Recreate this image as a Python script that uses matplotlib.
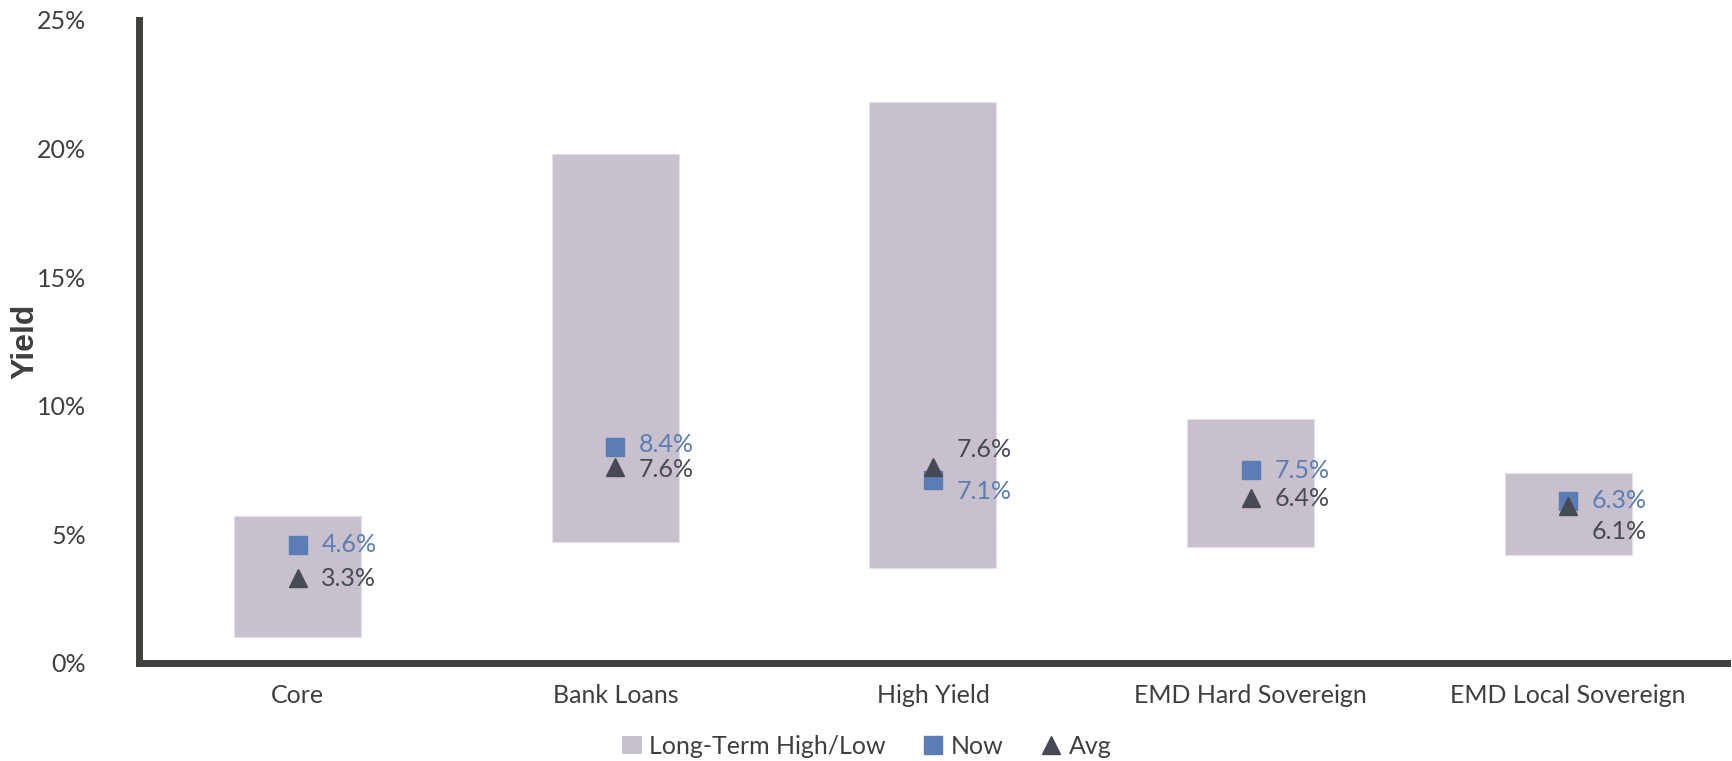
import matplotlib.pyplot as plt
from matplotlib.patches import Patch
from matplotlib.lines import Line2D

# -- Data (yield, %) --
categories = ["Core", "Bank Loans", "High Yield", "EMD Hard Sovereign", "EMD Local Sovereign"]
lt_low = [1.0, 4.7, 3.7, 4.5, 4.2]
lt_high = [5.7, 19.8, 21.8, 9.5, 7.4]
now = [4.6, 8.4, 7.1, 7.5, 6.3]
avg = [3.3, 7.6, 7.6, 6.4, 6.1]

# colours
c_range = "#c8c0cd"
c_now = "#5b7db5"
c_avg = "#474a54"
c_axis = "#42403d"
c_text = "#3f3f3f"

plt.rcParams["font.family"] = ["Lato", "DejaVu Sans"]

fig = plt.figure(figsize=(17.33, 7.61), dpi=100)
ax = fig.add_axes([0.0802, 0.1288, 0.9163, 0.845])

x = list(range(len(categories)))
heights = [h - l for h, l in zip(lt_high, lt_low)]
ax.bar(x, heights, bottom=lt_low, width=0.4, color=c_range, edgecolor="#e4e0e8", linewidth=0.8, zorder=1)
ax.plot(x, now, ls="none", marker="s", ms=13.5, color=c_now, zorder=3)
ax.plot(x, avg, ls="none", marker="^", ms=13, color=c_avg, zorder=4)

# label offsets (points) so overlapping labels don't collide
now_dy = [0, 1.5, -8, 0, 0]
avg_dy = [0, -1.5, 13, 0, -18]
for i in x:
    ax.annotate(f"{now[i]:.1f}%", (i, now[i]), xytext=(17, now_dy[i]), textcoords="offset points",
                va="center", ha="left", fontsize=18, color=c_now, zorder=5)
    ax.annotate(f"{avg[i]:.1f}%", (i, avg[i]), xytext=(17, avg_dy[i]), textcoords="offset points",
                va="center", ha="left", fontsize=18, color=c_avg, zorder=5)

ax.set_xlim(-0.5, len(categories) - 0.5)
ax.set_ylim(0, 25)
ax.set_yticks([0, 5, 10, 15, 20, 25])
ax.set_yticklabels([f"{t}%" for t in [0, 5, 10, 15, 20, 25]])
ax.set_xticks(x)
ax.set_xticklabels(categories)
ax.tick_params(axis="y", length=0, pad=38, labelsize=18, labelcolor=c_text)
ax.tick_params(axis="x", length=0, pad=15, labelsize=18, labelcolor=c_text)

for s in ["top", "right"]:
    ax.spines[s].set_visible(False)
for s in ["left", "bottom"]:
    ax.spines[s].set_linewidth(5)
    ax.spines[s].set_color(c_axis)

ax.set_ylabel("Yield", fontsize=23, fontweight="bold", color=c_text, family="Liberation Sans")
ax.yaxis.set_label_coords(-0.062, 0.5)

handles = [
    Patch(facecolor=c_range, label="Long-Term High/Low"),
    Line2D([], [], ls="none", marker="s", ms=13, color=c_now, label="Now"),
    Line2D([], [], ls="none", marker="^", ms=13, color=c_avg, label="Avg"),
]
fig.legend(handles=handles, loc="lower center", bbox_to_anchor=(0.5, -0.025), ncol=3, frameon=False,
           fontsize=18, handlelength=0.8, handletextpad=0.3, columnspacing=1.5, labelcolor=c_text)

fig.savefig("out.png", dpi=100)
